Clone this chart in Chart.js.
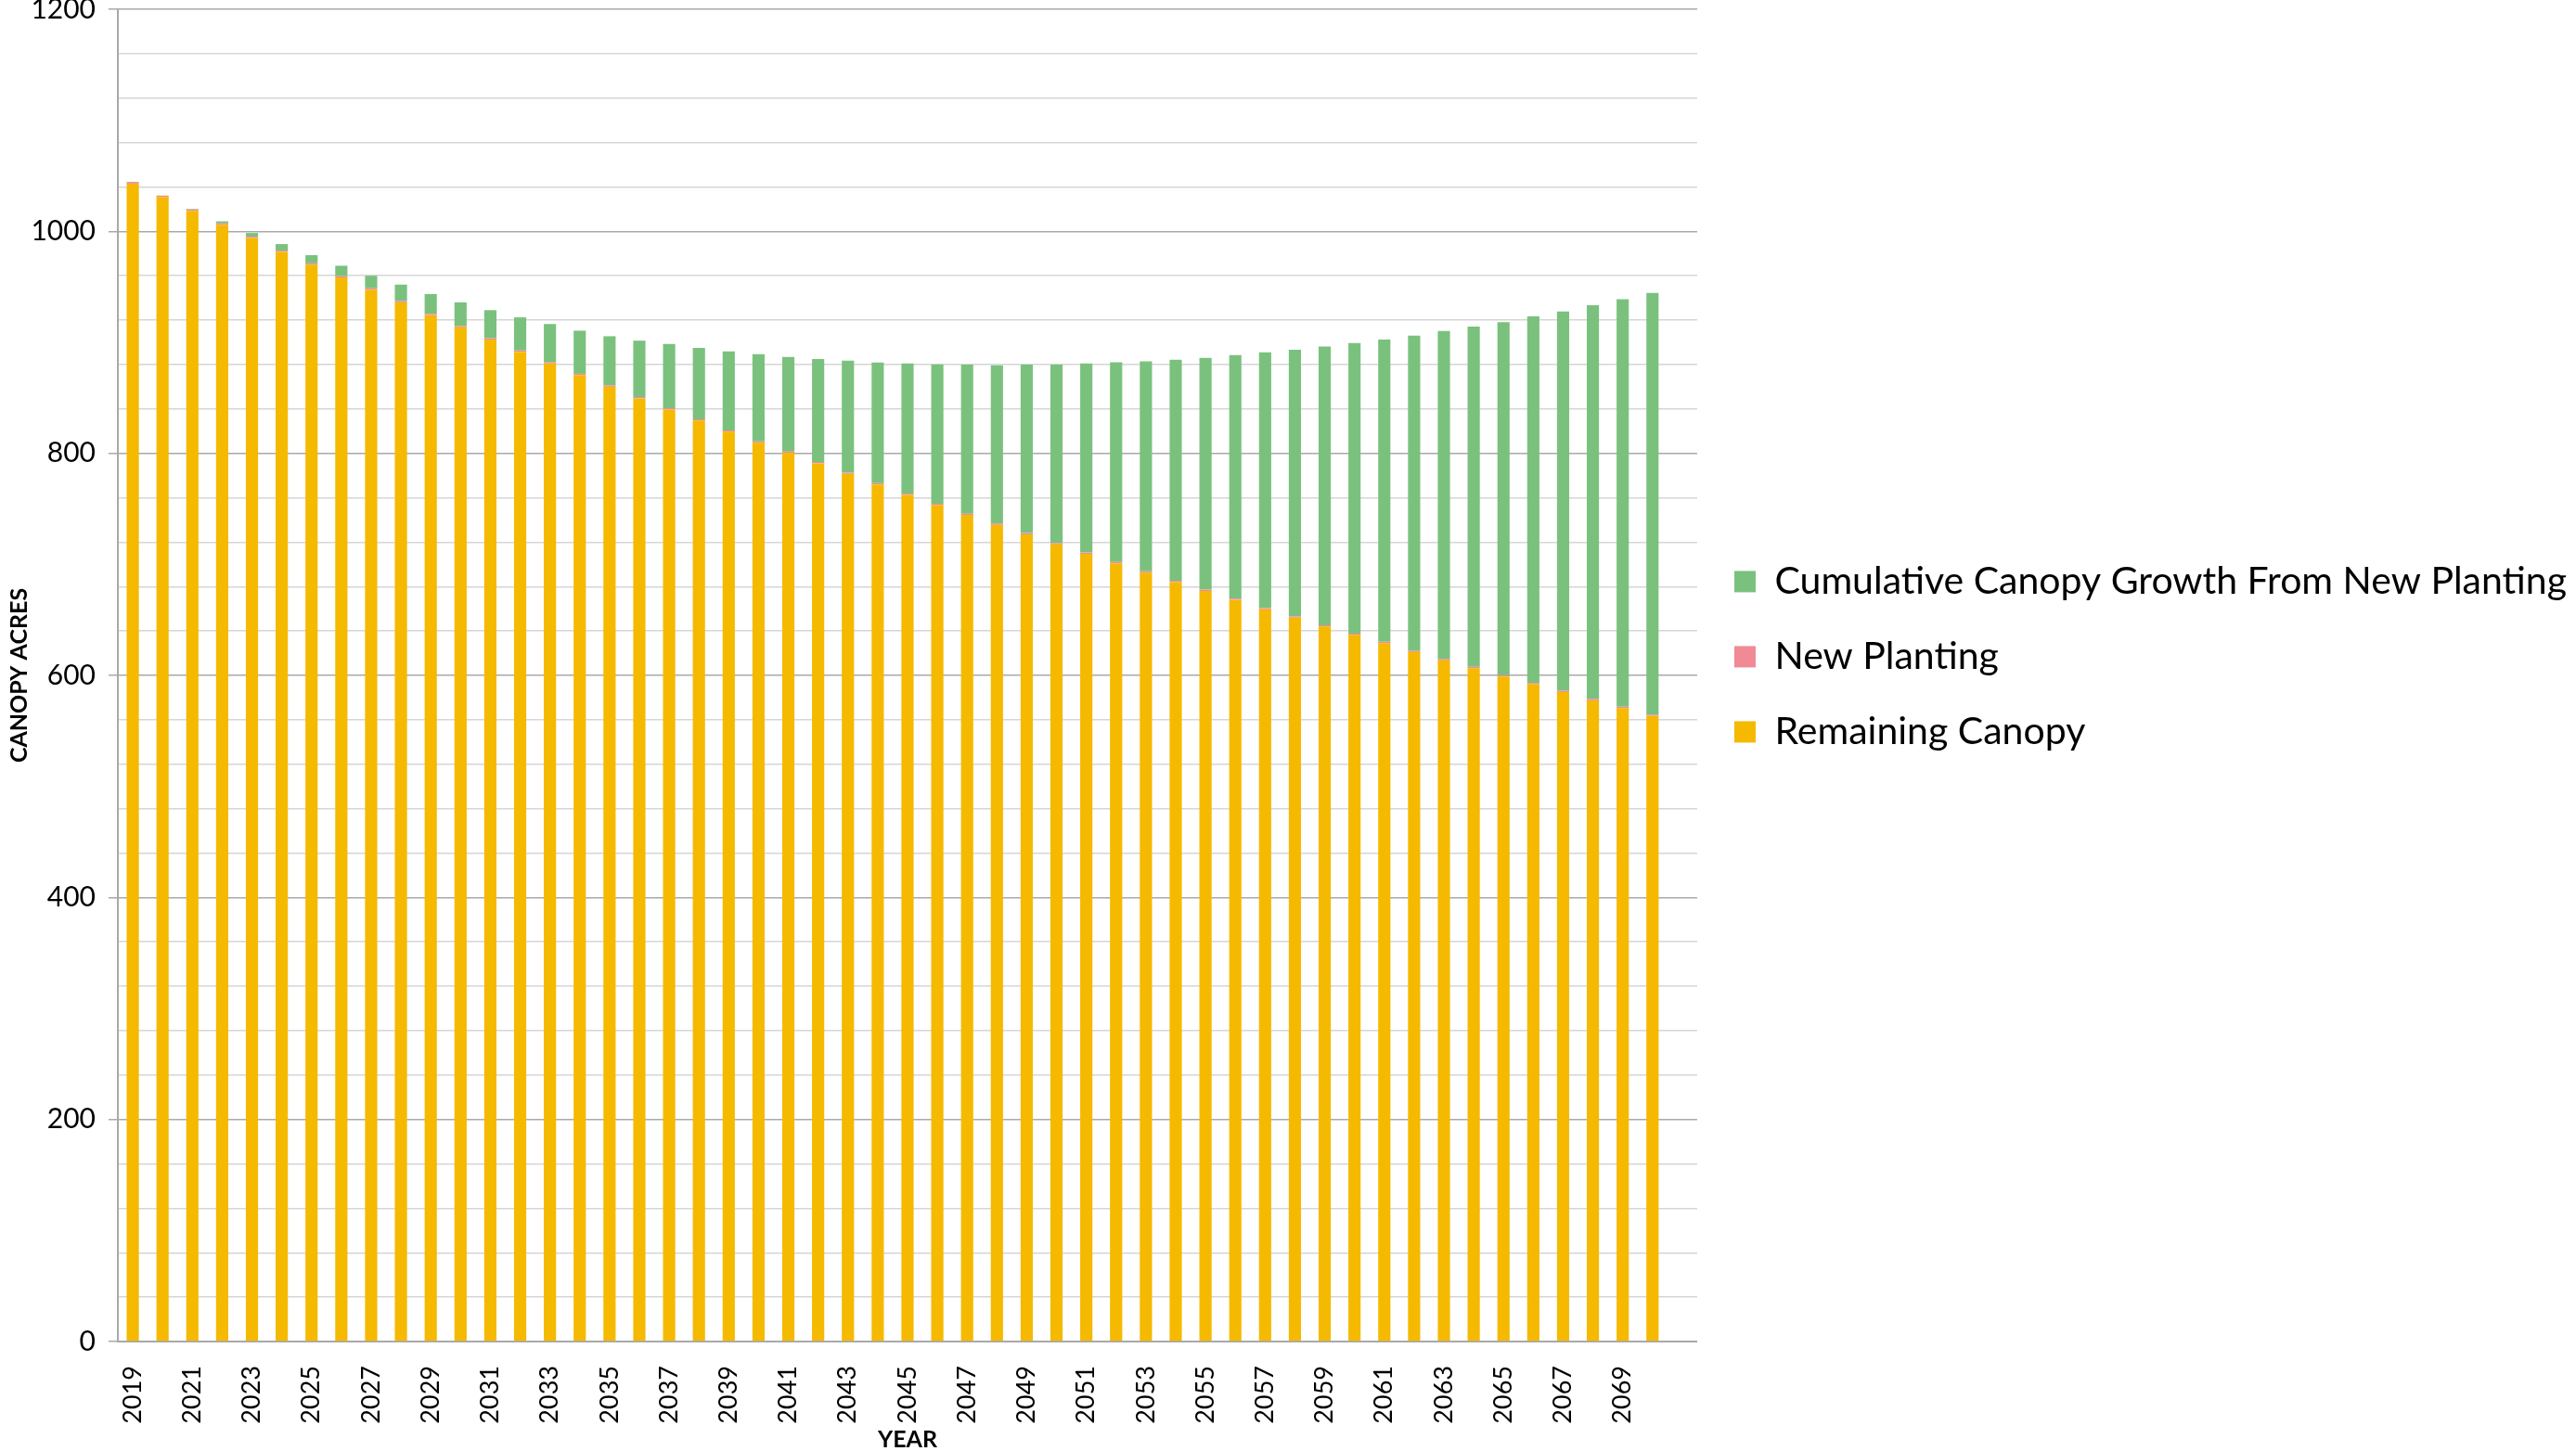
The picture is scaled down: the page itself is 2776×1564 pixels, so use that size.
<!DOCTYPE html>
<html lang="en">
<head>
    <meta charset="UTF-8">
    <title>Canopy Acres by Year</title>
    <script src="https://cdn.jsdelivr.net/npm/chart.js"></script>
    <style>
        html, body {
            margin: 0;
            padding: 0;
            background: #ffffff;
        }

        .wrap {
            width: 2776px;
            height: 1564px;
            position: relative;
        }
    </style>
</head>
<body>
    <div class="wrap">
        <canvas id="canopyChart"></canvas>
    </div>

    <script>
        // years on the x axis (last slot is an empty category, as in the original)
        const years = [
            '2019', '2020', '2021', '2022', '2023', '2024', '2025', '2026', '2027', '2028',
            '2029', '2030', '2031', '2032', '2033', '2034', '2035', '2036', '2037', '2038',
            '2039', '2040', '2041', '2042', '2043', '2044', '2045', '2046', '2047', '2048',
            '2049', '2050', '2051', '2052', '2053', '2054', '2055', '2056', '2057', '2058',
            '2059', '2060', '2061', '2062', '2063', '2064', '2065', '2066', '2067', '2068',
            '2069', '2070', ''
        ];

        const remainingCanopy = [
            1043, 1031, 1018.5, 1006, 994, 981.5, 970, 958.5, 947.5, 936,
            924.5, 913.5, 902.5, 891.5, 881, 870.5, 860, 849.5, 839.5, 829.5,
            819.5, 809.5, 800.5, 791, 781.5, 772, 762.5, 753.5, 744.5, 735.5,
            727, 718, 709.5, 701, 692.5, 684, 676, 668, 659.5, 652,
            644, 636.5, 629, 621, 613.5, 606.5, 599, 592, 585, 577.5,
            570.5, 563.5
        ];

        const newPlanting = [
            1.5, 1.2, 1.2, 1.2, 1.2, 1.2, 1.2, 1.2, 1.2, 1.2,
            1.2, 1.2, 1.2, 1.2, 1.2, 1.2, 1.2, 1.2, 1.2, 1.2,
            1.2, 1.2, 1.2, 1.2, 1.2, 1.2, 1.2, 1.2, 1.2, 1.2,
            1.2, 1.2, 1.2, 1.2, 1.2, 1.2, 1.2, 1.2, 1.2, 1.2,
            1.2, 1.2, 1.2, 1.2, 1.2, 1.2, 1.2, 1.2, 1.2, 1.2,
            1.2, 1.2
        ];

        const cumulativeGrowth = [
            0, 0, 0.5, 1.8, 3.3, 5.8, 7.3, 9.3, 11.3, 14.8,
            17.8, 21.3, 25.3, 29.8, 34.3, 38.8, 44.3, 50.8, 57.8, 64.3,
            71.1, 78.6, 85.1, 92.8, 100.7, 108.6, 117.3, 125.4, 134.3, 142.6,
            151.8, 160.8, 170.3, 179.8, 189.1, 199.1, 208.8, 219.3, 230.3, 240.1,
            251, 261.6, 272.4, 283.8, 295.5, 306.5, 318, 330.3, 341.5, 354.8,
            367.1, 379.7
        ];

        const yTicks = { min: 0, max: 1200, step: 40, labelEvery: 200 };

        const gridMajor = '#a9a9a9';
        const gridMinor = '#d6d6d6';
        const narrowFont = '"Liberation Sans Narrow", "Arial Narrow", Lato, sans-serif';

        Chart.defaults.font.family = 'Lato, "Open Sans", sans-serif';
        Chart.defaults.color = '#000000';

        new Chart(document.getElementById('canopyChart'), {
            type: 'bar',
            data: {
                labels: years,
                datasets: [
                    {
                        label: 'Remaining Canopy',
                        data: remainingCanopy,
                        backgroundColor: '#f5b900'
                    },
                    {
                        label: 'New Planting',
                        data: newPlanting,
                        backgroundColor: '#f08a94'
                    },
                    {
                        label: 'Cumulative Canopy Growth From New Planting',
                        data: cumulativeGrowth,
                        backgroundColor: '#7bc17e'
                    }
                ]
            },
            options: {
                responsive: true,
                maintainAspectRatio: false,
                devicePixelRatio: 1,
                animation: false,
                layout: {
                    padding: { top: 10, left: 0, right: 0, bottom: 0 }
                },
                datasets: {
                    bar: {
                        barPercentage: 0.41,
                        categoryPercentage: 1.0,
                        borderWidth: 0
                    }
                },
                plugins: {
                    tooltip: { enabled: false },
                    legend: {
                        position: 'right',
                        align: 'start',
                        fullSize: false,
                        reverse: true,
                        maxWidth: 1100,
                        // empty title used as a spacer to push the items down
                        title: {
                            display: true,
                            text: '',
                            padding: { top: 0, bottom: 542 }
                        },
                        labels: {
                            boxWidth: 23,
                            boxHeight: 23,
                            padding: 40,
                            font: { size: 41 },
                            color: '#000000'
                        }
                    }
                },
                scales: {
                    x: {
                        stacked: true,
                        grid: { display: false },
                        border: { display: true, color: gridMajor, width: 2 },
                        ticks: {
                            autoSkip: false,
                            maxRotation: 90,
                            minRotation: 90,
                            padding: 18,
                            font: { family: narrowFont, size: 27 },
                            callback: function (val, i) {
                                return i % 2 === 0 ? years[i] : '';
                            }
                        },
                        title: {
                            display: true,
                            text: 'YEAR',
                            font: { family: narrowFont, size: 25, weight: 'bold' },
                            padding: { top: 4, bottom: -3 }
                        },
                        afterFit: function (axis) {
                            axis.height = 118;
                            axis.paddingLeft = 0;
                            axis.paddingRight = 0;
                        }
                    },
                    y: {
                        stacked: true,
                        min: yTicks.min,
                        max: yTicks.max,
                        border: { display: true, color: gridMajor, width: 2 },
                        grid: {
                            lineWidth: 1.5,
                            tickLength: 10,
                            color: function (ctx) {
                                return ctx.tick.value % yTicks.labelEvery === 0 ? gridMajor : gridMinor;
                            },
                            tickColor: function (ctx) {
                                return ctx.tick.value % yTicks.labelEvery === 0 ? gridMajor : 'rgba(0,0,0,0)';
                            }
                        },
                        ticks: {
                            stepSize: yTicks.step,
                            autoSkip: false,
                            padding: 14,
                            font: { family: narrowFont, size: 30 },
                            callback: function (v) {
                                return v % yTicks.labelEvery === 0 ? v : '';
                            }
                        },
                        title: {
                            display: true,
                            text: 'CANOPY ACRES',
                            font: { family: narrowFont, size: 25, weight: 'bold' },
                            padding: { top: 6, bottom: 4 }
                        },
                        afterFit: function (axis) {
                            axis.width = 127;
                            axis.paddingTop = 0;
                            axis.paddingBottom = 0;
                        }
                    }
                }
            }
        });
    </script>
</body>
</html>
